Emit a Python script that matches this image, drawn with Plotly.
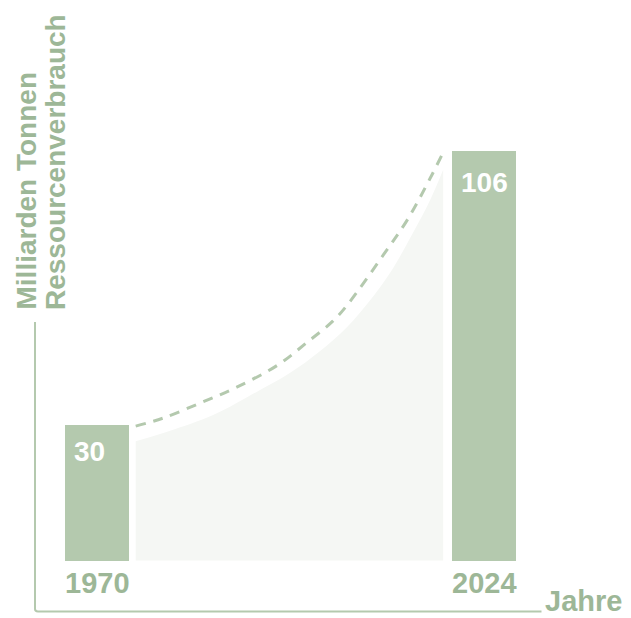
import plotly.graph_objects as go

# ---- data ----
years = [1970, 2024]
values = [30, 106]
value_labels = ["30", "106"]
year_labels = ["1970", "2024"]

# dashed trend curve
trend_years = [1975.4, 1979.2, 1984.4, 1989.5, 1995.2, 1999.3, 2002.9, 2005.0, 2010.0, 2013.3, 2016.5, 2018.1]
trend_values = [29.7, 31.9, 36.1, 40.5, 46.6, 52.9, 58.8, 63.5, 77.3, 86.9, 98.5, 104.8]

# light shaded area under the curve
area_years = [1975.4, 1980, 1986.2, 1991, 1996.9, 2001, 2004.9, 2008, 2010.9, 2014, 2016.5, 2018.3]
area_values = [25.5, 28.3, 32.8, 37.8, 44.4, 50.3, 57.2, 64.3, 72.2, 83.0, 92.5, 100.8]

y_title_lines = ["Milliarden Tonnen", "Ressourcenverbrauch"]
x_title = "Jahre"

# ---- style ----
BAR = "#b4c9ae"
TXT = "#9db797"
AREA = "#f5f7f4"
FONT = "Liberation Sans"
BASE = -7.6
OFF = 8  # page body margin
W, H = 631 - OFF, 618 - OFF


def px(x):
    return (x - OFF) / W


def py(y):
    return 1 - (y - OFF) / H


fig = go.Figure()

# baseline for the area fill
fig.add_trace(go.Scatter(x=[area_years[0], area_years[-1]], y=[BASE, BASE],
                         mode="lines", line=dict(width=0, color=AREA),
                         hoverinfo="skip", showlegend=False))
fig.add_trace(go.Scatter(x=area_years, y=area_values, mode="lines",
                         line=dict(width=0, color=AREA, shape="spline", smoothing=1),
                         fill="tonexty", fillcolor=AREA,
                         hoverinfo="skip", showlegend=False))

fig.add_trace(go.Scatter(x=trend_years, y=trend_values, mode="lines",
                         line=dict(color=BAR, width=3, dash="10px,8px", shape="spline"),
                         hoverinfo="skip", showlegend=False))

BAR_W = 8.93
fig.add_trace(go.Bar(x=years, y=[v - BASE for v in values], base=BASE,
                     width=BAR_W, marker=dict(color=BAR, line=dict(width=0)),
                     hoverinfo="skip", showlegend=False))

annotations = []
for yr, v, lab, shift in zip(years, values, value_labels, [-26, -31]):
    annotations.append(dict(x=yr - BAR_W / 2, y=v, xref="x", yref="y", text="<b>%s</b>" % lab,
                            showarrow=False, xanchor="left", yanchor="middle",
                            xshift=7, yshift=shift,
                            font=dict(family=FONT, size=28, color="white")))
for yr, lab in zip(years, year_labels):
    annotations.append(dict(x=yr, y=BASE, xref="x", yref="y", text="<b>%s</b>" % lab,
                            showarrow=False, xanchor="center", yanchor="middle",
                            yshift=-22,
                            font=dict(family=FONT, size=29, color=TXT)))

annotations.append(dict(x=px(543), y=py(601), xref="paper", yref="paper",
                        text="<b>%s</b>" % x_title, showarrow=False,
                        xanchor="left", yanchor="middle",
                        font=dict(family=FONT, size=29, color=TXT)))
for cx, line in zip([26, 55], y_title_lines):
    annotations.append(dict(x=px(cx), y=py(312), xref="paper", yref="paper",
                            text="<b>%s</b>" % line, showarrow=False, textangle=-90,
                            xanchor="center", yanchor="bottom",
                            font=dict(family=FONT, size=28, color=TXT)))

shapes = [
    dict(type="path", xref="paper", yref="paper",
         path="M %f,%f L %f,%f Q %f,%f %f,%f L %f,%f" % (
             px(35), py(322), px(35), py(609),
             px(35), py(611.5), px(38), py(611.5),
             px(541.5), py(611.5)),
         line=dict(color=BAR, width=2)),
]

px_per_year = 7.167
x0 = 1970 - (97 - OFF) / px_per_year
x1 = x0 + W / px_per_year
px_per_val = 3.605
y1 = 30 + (425 - OFF) / px_per_val
y0 = y1 - H / px_per_val

fig.update_layout(
    width=W, height=H, margin=dict(l=0, r=0, t=0, b=0),
    paper_bgcolor="white", plot_bgcolor="white",
    xaxis=dict(range=[x0, x1], visible=False, fixedrange=True),
    yaxis=dict(range=[y0, y1], visible=False, fixedrange=True),
    annotations=annotations, shapes=shapes, bargap=0,
)

fig.write_html("out.html")
